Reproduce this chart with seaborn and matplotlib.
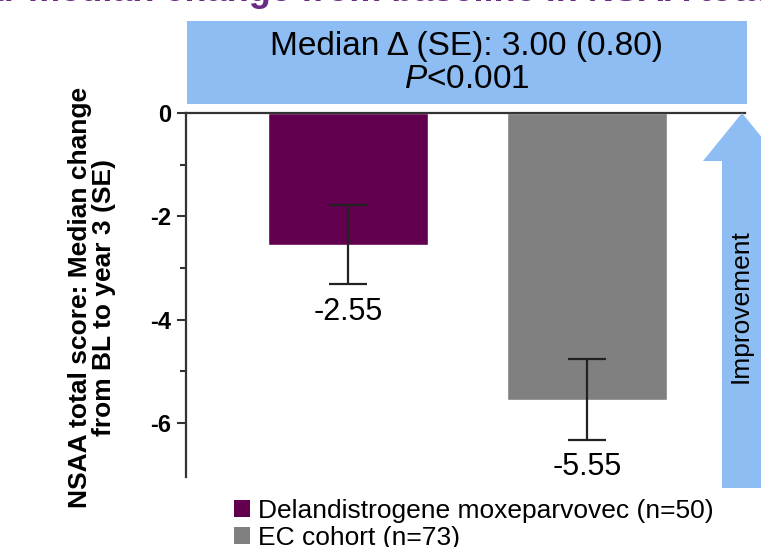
import matplotlib
matplotlib.use("Agg")
import matplotlib.pyplot as plt
from matplotlib.patches import Patch, Rectangle, Polygon
import numpy as np
import pandas as pd
import seaborn as sns

# data
groups = ["Delandistrogene moxeparvovec (n=50)", "EC cohort (n=73)"]
medians = [-2.55, -5.55]
ses = [0.77, 0.78]
colors = ["#62004F", "#808080"]
value_labels = ["-2.55", "-5.55"]
box_line1 = "Median \u0394 (SE): 3.00 (0.80)"
box_line2 = "$\\mathit{P}$<0.001"
ylabel = "NSAA total score: Median change\nfrom BL to year 3 (SE)"

sns.set_style("white")
plt.rcParams["font.family"] = ["Liberation Sans", "DejaVu Sans"]
plt.rcParams["axes.unicode_minus"] = False
plt.rcParams["mathtext.fontset"] = "custom"
plt.rcParams["mathtext.it"] = "Liberation Sans:italic"
plt.rcParams["mathtext.rm"] = "Liberation Sans"
plt.rcParams["text.color"] = "black"
plt.rcParams["ytick.labelcolor"] = "black"

W, H = 761, 547
fig = plt.figure(figsize=(W / 100, H / 100), dpi=100)


def px(x, y):
    return (x / W, 1 - y / H)


ax = fig.add_axes([186 / W, 1 - 477 / H, (745 - 186) / W, (477 - 113) / H])
df = pd.DataFrame({"group": groups, "median": medians})
sns.barplot(data=df, x="group", y="median", hue="group", palette=dict(zip(groups, colors)),
            order=groups, width=0.67, errorbar=None, legend=False, ax=ax, saturation=1)
ax.errorbar(range(len(groups)), medians, yerr=ses, fmt="none", ecolor="#222222",
            elinewidth=1.6, capsize=14, capthick=1.6)
for i, (m, s, lab) in enumerate(zip(medians, ses, value_labels)):
    ax.text(i, m - s - 0.53, lab, ha="center", va="center", fontsize=22)

ax.set_xlim(-0.678, 1.661)
ax.set_ylim(-7.05, 0)
ax.set_yticks([0, -2, -4, -6])
ax.set_yticklabels(["0", "-2", "-4", "-6"], fontsize=17, fontweight="bold")
ax.set_yticks([-1, -3, -5], minor=True)
ax.tick_params(axis="y", which="major", length=6.5, width=1.5, color="#333333", pad=4, left=True)
ax.tick_params(axis="y", which="minor", length=4.3, width=1.5, color="#333333", left=True)
ax.set_xticks([])
ax.set_xlabel("")
ax.set_ylabel("")
for side in ["right", "bottom"]:
    ax.spines[side].set_visible(False)
for side in ["left", "top"]:
    ax.spines[side].set_color("#333333")
    ax.spines[side].set_linewidth(1.6)

fig.text(*px(92, 297), ylabel, rotation=90, ha="center", va="center",
         fontsize=19, fontweight="bold", multialignment="center", linespacing=1.05)

# blue box with difference
x0, y0 = px(187, 104)
x1, y1 = px(747, 21)
fig.patches.append(Rectangle((x0, y0), x1 - x0, y1 - y0, transform=fig.transFigure,
                             facecolor="#8EBDF4", edgecolor="none", zorder=0))
fig.text(*px(467, 46), box_line1, ha="center", va="center", fontsize=24)
fig.text(*px(467, 80), box_line2, ha="center", va="center", fontsize=24)

# improvement arrow
arrow = [px(742, 113), px(781, 161), px(762, 161), px(762, 488),
         px(722, 488), px(722, 161), px(703, 161)]
fig.patches.append(Polygon(arrow, closed=True, transform=fig.transFigure,
                           facecolor="#8EBDF4", edgecolor="none"))
fig.text(*px(741, 306), "Improvement", rotation=90, ha="center", va="center", fontsize=19)

# cut-off title
fig.text(*px(18, 1), "Three-year", ha="right", va="baseline", fontsize=26,
         fontweight="bold", color="#6B2C86")
fig.text(*px(18, 1), " median change from baseline in NSAA total score", ha="left",
         va="baseline", fontsize=26, fontweight="bold", color="#6B2C86")

handles = [Patch(facecolor=c, edgecolor="none") for c in colors]
fig.legend(handles, groups, loc="upper left", bbox_to_anchor=px(234, 499), frameon=False,
           fontsize=19, handlelength=0.6, handleheight=0.6, handletextpad=0.3,
           labelspacing=0.12, borderpad=0, borderaxespad=0)

fig.savefig("out.png", dpi=100)
